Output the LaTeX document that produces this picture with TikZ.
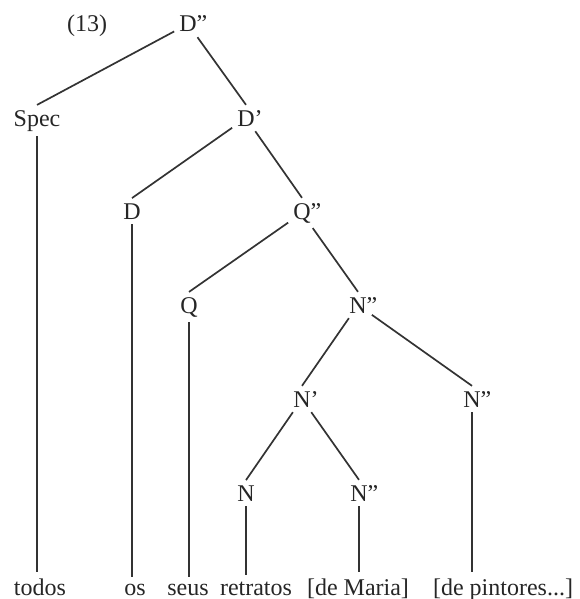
\documentclass[tikz,border=0pt]{standalone}
\usepackage{fontspec}
\setmainfont{Liberation Serif}
\newcommand\onebar[1]{#1\rlap{’}}
\newcommand\twobar[1]{#1\rlap{”}}
\begin{document}
\begin{tikzpicture}[x=1pt,y=-1pt,
		cat/.style={anchor=base, inner sep=5pt, text=black!85, font=\fontsize{24}{28}\selectfont},
		word/.style={anchor=base, inner sep=6pt, text=black!85, font=\fontsize{24}{28}\selectfont},
		branch/.style={line width=1.7pt, draw=black!80}]
		\path[use as bounding box] (0,0) rectangle (579,599);
		% categories
		\node[cat] (num) at (87,32) {(13)};
		\node[cat] (dpp) at (188,32) {\twobar{D}};
		\node[cat] (spec) at (37,126) {Spec};
		\node[cat] (dp) at (246,126) {\onebar{D}};
		\node[cat] (d) at (132,219) {D};
		\node[cat] (qpp) at (302,219) {\twobar{Q}};
		\node[cat] (q) at (189,313) {Q};
		\node[cat] (npp) at (358,313) {\twobar{N}};
		\node[cat] (np) at (302,407) {\onebar{N}};
		\node[cat] (nppb) at (472,407) {\twobar{N}};
		\node[cat] (n) at (246,501) {N};
		\node[cat] (nppc) at (359,501) {\twobar{N}};
		% words
		\node[word] (todos) at (40,595) {todos};
		\node[word] (os) at (135,595) {os};
		\node[word] (seus) at (188,595) {seus};
		\node[word] (retratos) at (256,595) {retratos};
		\node[word] (maria) at (358,595) {[de Maria]};
		\node[word] (pintores) at (503,595) {[de pintores...]};
		% branches
		\draw[branch] (dpp) -- (spec.north);
		\draw[branch] (dpp) -- (dp.north);
		\draw[branch] (dp) -- (d.north);
		\draw[branch] (dp) -- (qpp.north);
		\draw[branch] (qpp) -- (q.north);
		\draw[branch] (qpp) -- (npp.north);
		\draw[branch] (npp) -- (np.north);
		\draw[branch] (npp) -- (nppb.north);
		\draw[branch] (np) -- (n.north);
		\draw[branch] (np) -- (nppc.north);
		\draw[branch] (spec) -- (spec |- todos.north);
		\draw[branch] (d) -- (d |- os.north);
		\draw[branch] (q) -- (q |- seus.north);
		\draw[branch] (n) -- (n |- retratos.north);
		\draw[branch] (nppc) -- (nppc |- maria.north);
		\draw[branch] (nppb) -- (nppb |- pintores.north);
	\end{tikzpicture}
\end{document}
